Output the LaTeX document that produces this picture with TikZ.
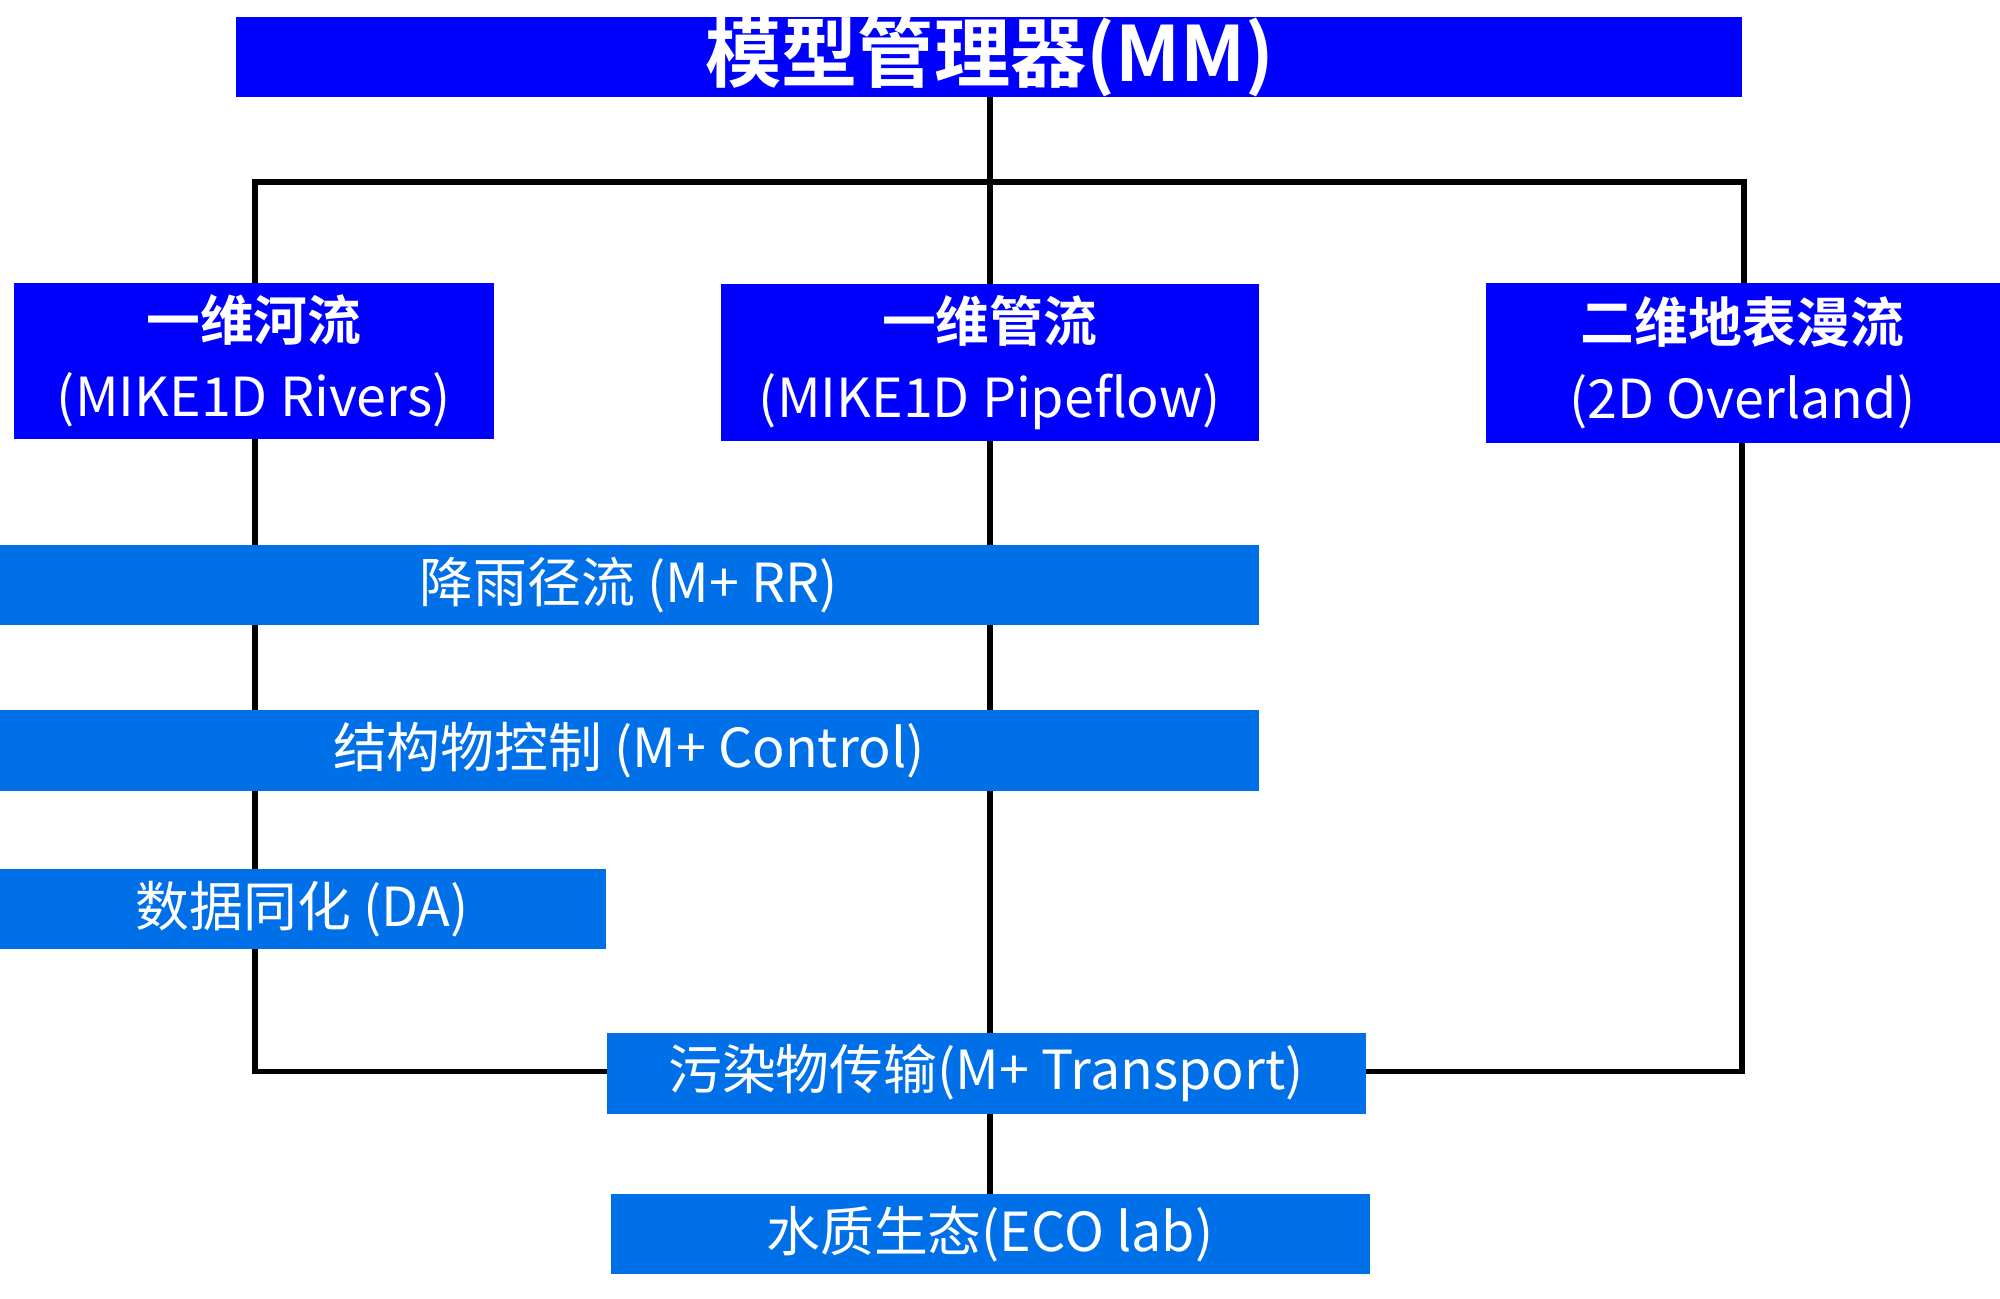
\documentclass[tikz,border=0pt]{standalone}
\usepackage{fontspec}
\setmainfont{Noto Sans CJK SC}
\newfontfamily\boldcjk{Noto Sans CJK SC Bold}
\usetikzlibrary{backgrounds}
\definecolor{dblue}{HTML}{0000FF}
\definecolor{lblue}{HTML}{0070E8}
\tikzset{
 box/.style={inner sep=0pt,outer sep=0pt,text=white,align=center},
 conn/.style={line width=1.3pt,black}
}
\begin{document}
\begin{tikzpicture}[x=0.01cm,y=-0.01cm]
\useasboundingbox (0,0) rectangle (1568,1018);
\fill[dblue] (185,13) rectangle (1366,76);
\node[box,font=\boldcjk\fontsize{17}{20}\selectfont] (mm) at (776,44.5) {模型管理器(MM)};
\fill[dblue] (11,222) rectangle (387,344);
\node[box,font=\fontsize{12}{17}\selectfont] (riv) at (199,283) {{\boldcjk 一维河流}\\(MIKE1D Rivers)};
\fill[dblue] (565,223) rectangle (987,346);
\node[box,font=\fontsize{12}{17}\selectfont] (pipe) at (776,284.5) {{\boldcjk 一维管流}\\(MIKE1D Pipeflow)};
\fill[dblue] (1165,222) rectangle (1568,347);
\node[box,font=\fontsize{12}{17}\selectfont] (ov) at (1366,284.5) {{\boldcjk 二维地表漫流}\\(2D Overland)};
\fill[lblue] (0,427) rectangle (987,490);
\node[box,font=\fontsize{12}{15}\selectfont] (rr) at (493,458.5) {降雨径流 (M+ RR)};
\fill[lblue] (0,557) rectangle (987,620);
\node[box,font=\fontsize{12}{15}\selectfont] (ctl) at (493,588.5) {结构物控制 (M+ Control)};
\fill[lblue] (0,681) rectangle (475,744);
\node[box,font=\fontsize{12}{15}\selectfont] (da) at (237,712.5) {数据同化 (DA)};
\fill[lblue] (476,810) rectangle (1071,873);
\node[box,font=\fontsize{12}{15}\selectfont] (tr) at (773,841.5) {污染物传输(M+ Transport)};
\fill[lblue] (479,936) rectangle (1074,999);
\node[box,font=\fontsize{12}{15}\selectfont] (eco) at (776,967.5) {水质生态(ECO lab)};
\coordinate (tl) at (200,143);
\coordinate (tm) at (776,143);
\coordinate (tr2) at (1367,143);
\coordinate (bl) at (200,840);
\coordinate (br) at (1366,840);
\begin{pgfonlayer}{background}
\draw[conn] (776,76) -- (tm);
\draw[conn] (200,222) -- (tl) -- (tr2) -- (1367,222);
\draw[conn] (tm) -- (776,936);
\draw[conn] (200,344) -- (bl) -- (476,840);
\draw[conn] (1366,347) -- (br) -- (1071,840);
\end{pgfonlayer}
\end{tikzpicture}
\end{document}
